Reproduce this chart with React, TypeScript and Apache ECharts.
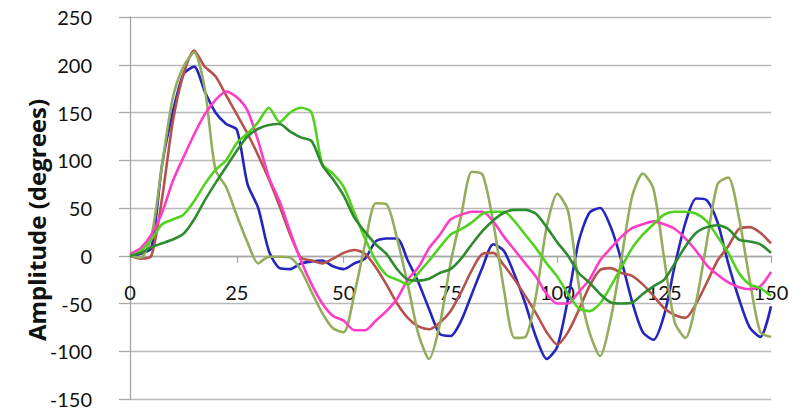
import { useEffect, useRef } from "react";
import * as echarts from "echarts";

// Sample times (x axis) shared by every trace
const times = [
  0, 2.5, 5, 7.5, 10, 12.5, 15, 17.5, 20, 22.5,
  25, 27.5, 30, 32.5, 35, 37.5, 40, 42.5, 45, 47.5,
  50, 52.5, 55, 57.5, 60, 62.5, 65, 67.5, 70, 72.5,
  75, 77.5, 80, 82.5, 85, 87.5, 90, 92.5, 95, 97.5,
  100, 102.5, 105, 107.5, 110, 112.5, 115, 117.5, 120, 122.5,
  125, 127.5, 130, 132.5, 135, 137.5, 140, 142.5, 145, 147.5,
  150,
];

// Amplitude traces (degrees)
const blueTrace = [
  0, 2, 8, 95, 150, 190, 198, 172, 150, 138,
  132, 75, 50, 5, -13, -14, -8, -6, -5, -11,
  -14, -8, -3, 15, 18, 18, -5, -28, -56, -82,
  -84, -68, -40, -12, 12, 5, -20, -50, -85, -108,
  -95, -45, 15, 45, 50, 30, -5, -48, -80, -88,
  -62, -10, 35, 60, 58, 35, -8, -45, -75, -85,
  -53,
];
const brownTrace = [
  0, -3, 0, 60, 140, 190, 215, 198, 188, 168,
  148, 128, 105, 80, 52, 22, -2, -5, -8, -3,
  3, 6, 2, -12, -30, -50, -65, -74, -77, -70,
  -58, -38, -15, 2, 3, -10, -25, -42, -60, -80,
  -93, -80, -57, -32, -15, -13, -18, -21, -30, -42,
  -55, -62, -65, -50, -28, -5, 10, 28, 30, 24,
  13,
];
const oliveTrace = [
  0, -2, 20, 95, 165, 198, 213, 175, 90, 72,
  42, 14, -8, -1, -1, -2, -15, -38, -60, -76,
  -80, -40, 12, 55, 54, 18, -30, -82, -108, -72,
  -8, 42, 88, 85, 35, -35, -86, -85, -42, 30,
  65, 47, -30, -80, -105, -66, -3, 62, 86, 70,
  -3, -70, -86, -48, 15, 75, 82, 40, -25, -80,
  -85,
];
const pinkTrace = [
  2, 8, 22, 45, 78, 103, 127, 148, 163, 172,
  166, 152, 120, 82, 57, 25, -5, -30, -50, -63,
  -68, -78, -78, -68, -58, -45, -25, -12, 8, 22,
  38, 43, 46, 46, 36, 20, 6, -8, -22, -40,
  -50, -50, -38, -25, -5, 8, 20, 29, 33, 36,
  33, 28, 18, 5, -10, -20, -28, -33, -35, -32,
  -17,
];
const lightGreenTrace = [
  0, 5, 17, 33, 38, 43, 57, 75, 90, 100,
  118, 128, 140, 155, 140, 150, 155, 150, 96, 86,
  72, 45, 18, -5, -20, -25, -30, -18, -5, 9,
  22, 28, 35, 44, 46, 46, 36, 22, 8, -8,
  -22, -40, -55, -58, -50, -32, -12, 8, 22, 33,
  43, 46, 46, 44, 36, 20, 3, -18, -30, -34,
  -42,
];
const darkGreenTrace = [
  0, 3, 9, 13, 17, 23, 38, 58, 76, 93,
  110, 125, 133, 137, 138, 130, 124, 120, 95, 80,
  63, 40, 25, 12, 2, -14, -25, -26, -24, -18,
  -14, -3, 12, 26, 37, 45, 48, 48, 44, 30,
  14, 0, -18, -28, -40, -49, -50, -49, -40, -32,
  -25, -8, 10, 24, 30, 32, 28, 17, 15, 12,
  3,
];

const yTicks = { min: -150, max: 250, step: 50 };
const xTicks = { min: 0, max: 150, step: 25 };

const traces = [
  { name: "Trace 1", values: blueTrace, color: "#2424bf" },
  { name: "Trace 2", values: brownTrace, color: "#b5524c" },
  { name: "Trace 3", values: oliveTrace, color: "#93ad5c" },
  { name: "Trace 4", values: pinkTrace, color: "#ff3cc6" },
  { name: "Trace 5", values: lightGreenTrace, color: "#52d21e" },
  { name: "Trace 6", values: darkGreenTrace, color: "#2e8b2e" },
];

const FONT = "Lato, 'Open Sans', sans-serif";

// Plot box in pixels
const GRID = { left: 130, right: 33, top: 17, bottom: 13 };
const CHART_H = 412;

export default function App() {
  const ref = useRef<HTMLDivElement>(null);

  useEffect(() => {
    if (!ref.current) return;
    const chart = echarts.init(ref.current, null, { renderer: "svg" });

    // Lift the x axis from the bottom edge to the zero line
    const plotH = CHART_H - GRID.top - GRID.bottom;
    const zeroFromBottom = (plotH * (0 - yTicks.min)) / (yTicks.max - yTicks.min);

    chart.setOption({
      animation: false,
      backgroundColor: "#ffffff",
      grid: { ...GRID, containLabel: false, outerBoundsMode: "none" },
      xAxis: {
        type: "value",
        min: xTicks.min,
        max: xTicks.max,
        interval: xTicks.step,
        offset: -zeroFromBottom,
        axisLine: { show: true, onZero: false, lineStyle: { color: "#a6a6a6", width: 1.3 } },
        axisTick: { show: true, length: 7, lineStyle: { color: "#a6a6a6", width: 1.3 } },
        axisLabel: { margin: 26, fontSize: 20, color: "#111", fontFamily: FONT },
        splitLine: { show: false },
      },
      yAxis: {
        type: "value",
        min: yTicks.min,
        max: yTicks.max,
        interval: yTicks.step,
        axisLine: { show: true, onZero: false, lineStyle: { color: "#a6a6a6", width: 1.3 } },
        axisTick: { show: true, length: 11, lineStyle: { color: "#a6a6a6", width: 1.3 } },
        axisLabel: { margin: 38, fontSize: 20, color: "#111", fontFamily: FONT },
        splitLine: { show: true, lineStyle: { color: "#b8b8b8", width: 1.3 } },
      },
      graphic: [
        {
          type: "text",
          x: 36,
          y: 220,
          rotation: Math.PI / 2,
          style: {
            text: "Amplitude (degrees)",
            font: `bold 24px 'Open Sans', Lato, sans-serif`,
            fill: "#111",
            align: "center",
            verticalAlign: "middle",
          },
        },
      ],
      series: traces.map((t) => ({
        name: t.name,
        type: "line",
        data: t.values.map((v, i) => [times[i], v]),
        showSymbol: false,
        smooth: 0.25,
        lineStyle: { color: t.color, width: 2.6 },
        itemStyle: { color: t.color },
      })),
    });
    return () => chart.dispose();
  }, []);

  return (
    <div
      ref={ref}
      style={{ position: "fixed", left: 0, top: 0, width: 804, height: 412 }}
    />
  );
}
